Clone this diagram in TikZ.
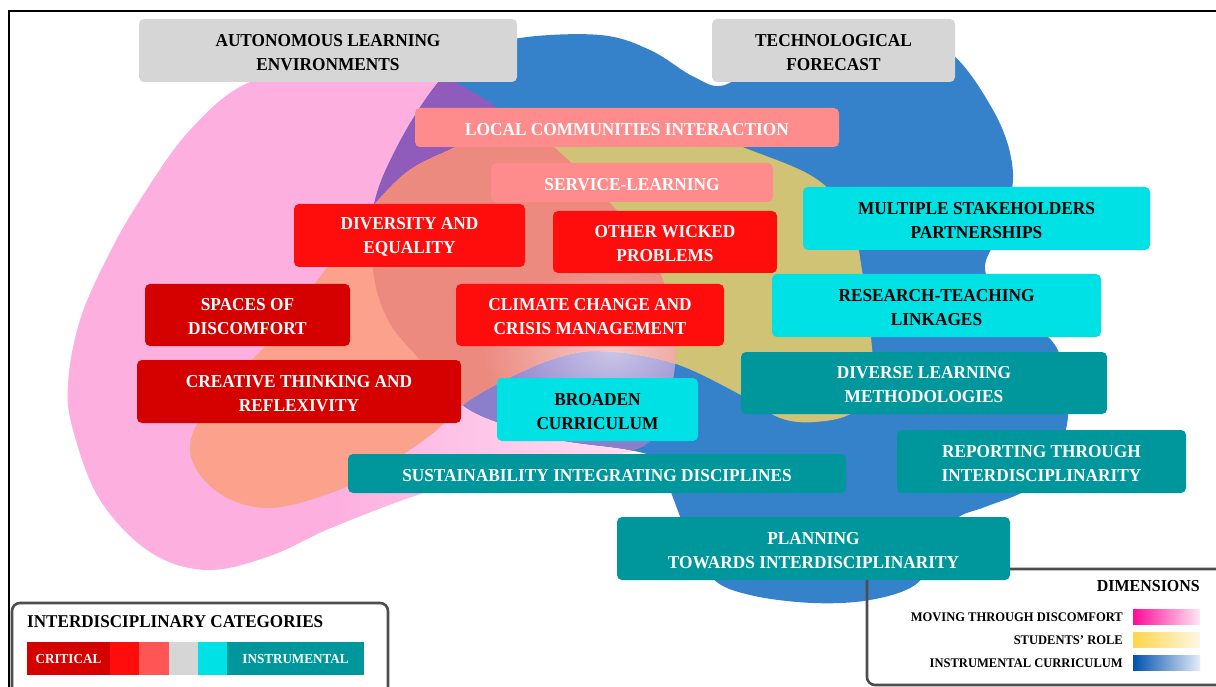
\documentclass[tikz,border=0pt]{standalone}
\usepackage{fontspec}
\setmainfont{Liberation Serif}[FakeStretch=0.95]
\usetikzlibrary{fadings}
\definecolor{pinkc}{HTML}{FDAFE0}
\definecolor{pinkw}{HTML}{FFE4F4}
\definecolor{bluec}{HTML}{3582CA}
\definecolor{purpc}{HTML}{8F5CBB}
\definecolor{lavc}{HTML}{8B7ECB}
\definecolor{khakic}{HTML}{D1C375}
\definecolor{salmc}{HTML}{FCA18C}
\definecolor{rosec}{HTML}{EC8A80}
\definecolor{grayc}{HTML}{D6D6D6}
\definecolor{lredc}{HTML}{FF8C8C}
\definecolor{redc}{HTML}{FF0D0D}
\definecolor{dredc}{HTML}{D50000}
\definecolor{cyanc}{HTML}{00E1E6}
\definecolor{tealc}{HTML}{00979C}
\definecolor{legred}{HTML}{FF5555}
\definecolor{legline}{HTML}{4D4D4D}
\definecolor{magl}{HTML}{FF0A9A}
\definecolor{magr}{HTML}{FFE8F6}
\definecolor{yell}{HTML}{FFD54A}
\definecolor{yelr}{HTML}{FFF8E4}
\definecolor{blul}{HTML}{0052AE}
\definecolor{blur}{HTML}{E4ECF8}
\tikzfading[name=softglow, inner color=transparent!0, outer color=transparent!100]
\newcommand\bxfont{\fontsize{18.2}{24}\selectfont\bfseries}
\newcommand\segfont{\fontsize{13.8}{16}\selectfont\bfseries}
\newcommand\dimfont{\fontsize{13.2}{16}\selectfont\bfseries}
\newcommand\legtitlefont{\fontsize{18}{20}\selectfont\bfseries}
\newcommand\dimtitlefont{\fontsize{16.8}{20}\selectfont\bfseries}
\def\pinkpath{plot[smooth cycle, tension=0.6] coordinates {(250,82) (340,66) (428,72) (462,86) (495,106) (535,133) (566,158) (618,212) (658,268) (675,333) (671,392) (655,435) (628,452) (565,462) (485,477) (420,494) (333,527) (270,556) (207,570) (150,552) (100,500) (73,430) (68,383) (80,320) (107,258) (140,200) (190,130)}}
\def\bluepath{plot[smooth cycle, tension=0.6] coordinates {(436,85) (470,55) (520,38) (600,35) (650,50) (694,77) (725,85) (770,55) (860,35) (940,45) (993,110) (1013,173) (1000,230) (985,270) (1010,310) (1055,345) (1068,400) (1063,440) (1045,472) (1023,492) (985,507) (955,520) (935,555) (915,585) (870,600) (813,603) (750,595) (712,578) (688,535) (672,495) (660,462) (630,450) (560,440) (500,423) (460,403) (420,360) (388,320) (373,270) (374,205) (398,145)}}
\def\yellowpath{plot[smooth cycle, tension=0.6] coordinates {(443,153) (500,130) (600,120) (690,128) (745,148) (815,178) (850,218) (862,270) (871,337) (872,385) (852,413) (815,422) (780,418) (741,395) (673,363) (600,351) (550,360) (495,385) (460,407) (433,433) (383,467) (333,492) (267,508) (215,490) (190,448) (215,395) (260,352) (290,315) (320,277) (350,235) (383,195) (410,170)}}
\begin{document}
\begin{tikzpicture}[x=1pt,y=-1pt,
  wh/.style 2 args={minimum width=#1pt, minimum height=#2pt},
  bx/.style={rounded corners=5pt, inner sep=0pt, align=center, font=\bxfont,
    execute at begin node={\rule{0pt}{15.5pt}}},
  twol/.style={execute at begin node={\rule{0pt}{39.5pt}}},
  gbox/.style={bx, fill=grayc, text=black},
  lrbox/.style={bx, fill=lredc, text=white},
  rbox/.style={bx, fill=redc, text=white},
  drbox/.style={bx, fill=dredc, text=white},
  cbox/.style={bx, fill=cyanc, text=black},
  tbox/.style={bx, fill=tealc, text=white},
  legbox/.style={draw=legline, line width=2.6pt, rounded corners=8pt, inner sep=0pt},
  seg/.style={inner sep=0pt, minimum height=33pt, font=\segfont, text=white},
  swatch/.style={inner sep=0pt, minimum width=67pt, minimum height=15pt},
  dimlab/.style={anchor=east, inner sep=0pt, font=\dimfont},
]
\useasboundingbox (0,0) rectangle (1216,687);
\fill[white] (0,0) rectangle (1216,687);
% blobs
\fill[pinkc] \pinkpath;
\begin{scope}
  \clip \pinkpath;
  \shade[left color=pinkc, right color=pinkw] (330,380) rectangle (680,600);
\end{scope}
\fill[bluec] \bluepath;
\begin{scope}
  \clip \pinkpath;
  \fill[purpc] \bluepath;
  \clip (300,340) rectangle (700,620);
  \fill[lavc] \bluepath;
\end{scope}
\fill[khakic] \yellowpath;
\begin{scope}
  \clip \pinkpath;
  \fill[salmc] \yellowpath;
  \clip \bluepath;
  \fill[rosec] \yellowpath;
\end{scope}
\begin{scope}
  \clip \pinkpath;
  \fill[white, opacity=0.55, path fading=softglow] (612,352) ellipse [x radius=130, y radius=85];
\end{scope}
% frame
\draw[line width=2.6pt] (9,700) -- (9,11) -- (1230,11);
% legend boxes
\node[legbox, wh={376}{110}] (interbox) at (200,658) {};
\node[legbox, wh={373}{116}] (dimbox) at (1053.5,627) {};
% category boxes
\node[gbox, twol, wh={378}{63}] (auto) at (328,50.5) {AUTONOMOUS LEARNING\\ENVIRONMENTS};
\node[gbox, twol, wh={243}{63}] (tech) at (833.5,50.5) {TECHNOLOGICAL\\FORECAST};
\node[lrbox, wh={424}{39}] (local) at (627,127.5) {LOCAL COMMUNITIES INTERACTION};
\node[lrbox, wh={282}{39}] (service) at (632,182.5) {SERVICE-LEARNING};
\node[rbox, twol, wh={231}{63}] (divers) at (409.5,235.5) {DIVERSITY AND\\EQUALITY};
\node[rbox, twol, wh={224}{62}] (wicked) at (665,242) {OTHER WICKED\\PROBLEMS};
\node[drbox, twol, wh={205}{62}] (spaces) at (247.5,315) {SPACES OF\\DISCOMFORT};
\node[rbox, twol, wh={268}{62}] (climate) at (590,315) {CLIMATE CHANGE AND\\CRISIS MANAGEMENT};
\node[drbox, twol, wh={324}{63}] (creative) at (299,391.5) {CREATIVE THINKING AND\\REFLEXIVITY};
\node[cbox, twol, wh={201}{63}] (broaden) at (597.5,409.5) {BROADEN\\CURRICULUM};
\node[cbox, twol, wh={347}{63}] (multi) at (976.5,218.5) {MULTIPLE STAKEHOLDERS\\PARTNERSHIPS};
\node[cbox, twol, wh={329}{63}] (research) at (936.5,305.5) {RESEARCH-TEACHING\\LINKAGES};
\node[tbox, twol, wh={366}{62}] (diverse) at (924,383) {DIVERSE LEARNING\\METHODOLOGIES};
\node[tbox, twol, wh={289}{63}] (reporting) at (1041.5,461.5) {REPORTING THROUGH\\INTERDISCIPLINARITY};
\node[tbox, wh={498}{39}] (sustain) at (597,473.5) {SUSTAINABILITY INTEGRATING DISCIPLINES};
\node[tbox, twol, wh={393}{63}] (planning) at (813.5,548.5) {PLANNING\\TOWARDS INTERDISCIPLINARITY};
% interdisciplinary categories legend
\node[anchor=west, inner sep=0pt, font=\legtitlefont] (intertitle) at (27,622) {INTERDISCIPLINARY CATEGORIES};
\node[seg, fill=dredc, minimum width=83pt] (segcrit) at (68.5,658.5) {CRITICAL};
\node[seg, fill=redc, minimum width=29pt] (segred) at (124.5,658.5) {};
\node[seg, fill=legred, minimum width=30pt] (seglred) at (154,658.5) {};
\node[seg, fill=grayc, minimum width=29pt] (seggray) at (183.5,658.5) {};
\node[seg, fill=cyanc, minimum width=29pt] (segcyan) at (212.5,658.5) {};
\node[seg, fill=tealc, minimum width=137pt] (seginstr) at (295.5,658.5) {INSTRUMENTAL};
% dimensions legend
\node[anchor=east, inner sep=0pt, font=\dimtitlefont] (dimtitle) at (1200,586) {DIMENSIONS};
\node[dimlab] (dimmove) at (1123,617) {MOVING THROUGH DISCOMFORT};
\node[dimlab] (dimstud) at (1123,640) {STUDENTS’ ROLE};
\node[dimlab] (diminst) at (1123,663) {INSTRUMENTAL CURRICULUM};
\node[swatch, left color=magl, right color=magr] (swmove) at (1166.5,616.5) {};
\node[swatch, left color=yell, right color=yelr] (swstud) at (1166.5,639.5) {};
\node[swatch, left color=blul, right color=blur] (swinst) at (1166.5,662.5) {};
\end{tikzpicture}
\end{document}
